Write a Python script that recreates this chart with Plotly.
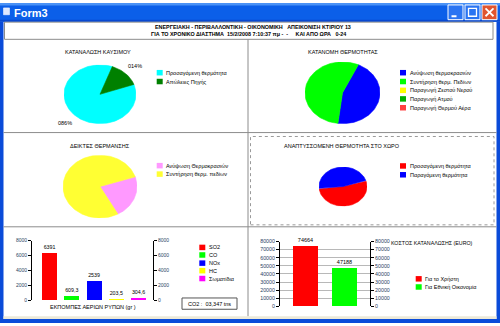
import numpy as np
import plotly.graph_objects as go

FONT = "Liberation Sans"
W, H = 500, 326

# ---------------- data ----------------
fuel_labels = ["Προσαγόμενη θερμότητα", "Απώλειες Πηγής"]
fuel_values = [86, 14]
heat_labels = ["Ανύψωση θερμοκρασιών", "Συντήρηση θερμ. Πεδίων", "Παραγωγή Ζεστού Νερού",
               "Παραγωγή Ατμού", "Παραγωγή Θερμού Αέρα"]
heat_values = [45, 55, 0, 0, 0]
index_labels = ["Ανύψωση Θερμοκρασιών", "Συντήρηση θερμ. πεδίων"]
index_values = [22, 78]
room_labels = ["Προσαγόμενη θερμότητα", "Παραγόμενη θερμότητα"]
room_values = [53, 47]
emis_labels = ["SO2", "CO", "NOx", "HC", "Σωματίδια"]
emis_values = [6391, 609.3, 2539, 203.5, 304.6]
cost_labels = ["Για το Χρήστη", "Για Εθνική Οικονομία"]
cost_values = [74664, 47188]
emis_ticks = [0, 2000, 4000, 6000, 8000]
cost_ticks = [0, 10000, 20000, 30000, 40000, 50000, 60000, 70000, 80000]
co2_text = "CO2 :\u00a0\u00a003,347 tns"

# ---------------- styles ----------------
fuel_colors = ["#00FFFF", "#008000"]
heat_colors = ["#0000FF", "#00FF00", "#FFFF00", "#00B000", "#FF4040"]
index_colors = ["#FF99FF", "#FFFF33"]
room_colors = ["#FF0000", "#0000FF"]
emis_colors = ["#FF0000", "#00FF00", "#0000FF", "#FFFF00", "#FF00FF"]
cost_colors = ["#FF0000", "#00FF00"]


def px(x):
    return x / W


def py(y):
    return 1 - y / H


shapes, annotations = [], []


def rect(x0, y0, x1, y1, fill=None, line=None, lw=1, dash=None, layer="below"):
    shapes.append(dict(type="rect", xref="paper", yref="paper",
                       x0=px(x0), x1=px(x1), y0=py(y1), y1=py(y0),
                       fillcolor=fill if fill else "rgba(0,0,0,0)",
                       line=dict(color=line if line else "rgba(0,0,0,0)",
                                 width=lw if line else 0, dash=dash),
                       layer=layer))


def hline(x0, x1, y, color="#8c8c8c", lw=1, layer="below"):
    shapes.append(dict(type="line", xref="paper", yref="paper", x0=px(x0), x1=px(x1),
                       y0=py(y), y1=py(y), line=dict(color=color, width=lw), layer=layer))


def vline(x, y0, y1, color="#8c8c8c", lw=1, layer="below"):
    shapes.append(dict(type="line", xref="paper", yref="paper", x0=px(x), x1=px(x),
                       y0=py(y0), y1=py(y1), line=dict(color=color, width=lw), layer=layer))


def text(x, y, s, size=5.5, color="black", xanchor="center", family=FONT):
    annotations.append(dict(xref="paper", yref="paper", x=px(x), y=py(y), text=s,
                            showarrow=False, xanchor=xanchor, yanchor="middle",
                            borderpad=0, font=dict(family=family, size=size, color=color)))


def legend(x_box, ys, labels, colors, size=5.5):
    for yy, lab, col in zip(ys, labels, colors):
        rect(x_box, yy - 2.8, x_box + 6, yy + 2.8, fill=col, layer="above")
        text(x_box + 8.5, yy, lab, size=size, xanchor="left")


fig = go.Figure()
layout_axes = {}

# ---------------- window chrome ----------------
rect(0, 0, 500, 19, fill="#0B5FE9")
rect(0, 0, 500, 2.5, fill="#4A92F6")
rect(0, 17, 500, 19, fill="#0848D0")
rect(0, 19, 3.5, 326, fill="#0A4BD9")
rect(496.5, 19, 500, 326, fill="#0A4BD9")
rect(0, 322, 500, 326, fill="#0A4BD9")
rect(3.5, 319, 496.5, 322, fill="#ECE9D8")
# icon
rect(3.5, 5, 9.5, 12, fill="#DDE8FF", line="#FFFFFF", lw=0.5)
text(13, 10, "<b>Form3</b>", size=11, color="white", xanchor="left")
# buttons
rect(448, 2, 463, 17, fill="#2A74F2", line="#FFFFFF", lw=1)
hline(451.5, 456.5, 13.5, color="white", lw=2, layer="above")
rect(465, 2, 480, 17, fill="#2A74F2", line="#FFFFFF", lw=1)
rect(468.5, 5.5, 476.5, 13.5, line="#FFFFFF", lw=1.3, layer="above")
rect(482, 2, 497, 17, fill="#E0552F", line="#FFFFFF", lw=1)
shapes.append(dict(type="line", xref="paper", yref="paper", x0=px(485.5), x1=px(493.5),
                   y0=py(5.5), y1=py(13.5), line=dict(color="white", width=1.8), layer="above"))
shapes.append(dict(type="line", xref="paper", yref="paper", x0=px(485.5), x1=px(493.5),
                   y0=py(13.5), y1=py(5.5), line=dict(color="white", width=1.8), layer="above"))

# header box
rect(4.5, 19.5, 493, 37, line="#8c8c8c", lw=1)
text(253, 24, "<b>ΕΝΕΡΓΕΙΑΚΗ - ΠΕΡΙΒΑΛΛΟΝΤΙΚΗ - ΟΙΚΟΝΟΜΙΚΗ\u00a0\u00a0\u00a0ΑΠΕΙΚΟΝΙΣΗ ΚΤΙΡΙΟΥ 13</b>",
     size=5.4)
text(248, 32, "<b>ΓΙΑ ΤΟ ΧΡΟΝΙΚΟ ΔΙΑΣΤΗΜΑ\u00a0\u00a015/2/2008 7:10:37 πμ -\u00a0\u00a0-\u00a0\u00a0\u00a0\u00a0\u00a0ΚΑΙ ΑΠΟ ΩΡΑ\u00a0\u00a0\u00a00-24</b>",
     size=5.4)

# panel dividers
vline(248, 37, 319)
hline(3.5, 496.5, 132)
hline(3.5, 496.5, 228)
rect(250.5, 136, 494, 226, line="#9a9a9a", lw=1, dash="dot")

# ---------------- pies (elliptical, drawn on scaled axes) ----------------
pies = [
    dict(cx=100, cy=93, a=36, b=30, vals=fuel_values, cols=fuel_colors, start=70.4,
         title="ΚΑΤΑΝΑΛΩΣΗ ΚΑΥΣΙΜΟΥ", tx=98, ty=50,
         labels=fuel_labels, lx=156.7, lys=[71, 80], k=1.38),
    dict(cx=342.5, cy=91.5, a=37.5, b=31.5, vals=heat_values, cols=heat_colors, start=25,
         title="ΚΑΤΑΝΟΜΗ ΘΕΡΜΟΤΗΤΑΣ", tx=343, ty=50,
         labels=heat_labels, lx=400, lys=[71, 80, 89, 97.7, 106.7], k=1.35),
    dict(cx=100, cy=187, a=37, b=32, vals=index_values, cols=index_colors, start=72,
         title="ΔΕΙΚΤΕΣ ΘΕΡΜΑΝΣΗΣ", tx=100, ty=146,
         labels=index_labels, lx=156.7, lys=[165.7, 174.3], k=1.38),
    dict(cx=343, cy=187, a=24, b=20, vals=room_values, cols=room_colors, start=72,
         title="ΑΝΑΠΤΥΣΣΟΜΕΝΗ ΘΕΡΜΟΤΗΤΑ ΣΤΟ ΧΩΡΟ", tx=342, ty=146,
         labels=room_labels, lx=400, lys=[166, 175], k=1.5),
]

for i, p in enumerate(pies):
    n = i + 1
    xa = "x" if n == 1 else f"x{n}"
    ya = "y" if n == 1 else f"y{n}"
    layout_axes["xaxis" if n == 1 else f"xaxis{n}"] = dict(
        domain=[px(p["cx"] - p["a"]), px(p["cx"] + p["a"])], range=[-1, 1],
        visible=False, fixedrange=True, anchor=ya)
    layout_axes["yaxis" if n == 1 else f"yaxis{n}"] = dict(
        domain=[py(p["cy"] + p["b"]), py(p["cy"] - p["b"])], range=[-1, 1],
        visible=False, fixedrange=True, anchor=xa)
    total = float(sum(p["vals"]))
    t = p["start"]
    for v, c in zip(p["vals"], p["cols"]):
        span = v / total * 360.0
        if span <= 0:
            continue
        ang = np.radians(np.linspace(t, t + span, int(span / 2) + 3))
        xs = np.concatenate([[0], np.sin(ang), [0]])
        ys = np.concatenate([[0], np.cos(ang), [0]])
        fig.add_trace(go.Scatter(x=xs, y=ys, xaxis=xa, yaxis=ya, mode="lines",
                                 fill="toself", fillcolor=c,
                                 line=dict(color=c, width=0.6),
                                 hoverinfo="skip", showlegend=False))
        mid = np.radians(t + span / 2)
        annotations.append(dict(xref=xa, yref=ya, x=p["k"] * np.sin(mid), y=p["k"] * np.cos(mid),
                                text=f"{int(round(v)):03d}%", showarrow=False,
                                font=dict(family=FONT, size=5.5, color="black")))
        t += span
    text(p["tx"], p["ty"], p["title"], size=5.5)
    legend(p["lx"], p["lys"], p["labels"], p["cols"])

# ---------------- emissions bar chart ----------------
def fmt(v):
    s = f"{v:g}"
    return s.replace(".", ",")


fig.add_trace(go.Bar(x=emis_labels, y=emis_values, xaxis="x5", yaxis="y5",
                     marker=dict(color=emis_colors, line=dict(width=0)), width=0.67,
                     text=[fmt(v) for v in emis_values], textposition="outside",
                     constraintext="none", cliponaxis=False,
                     textfont=dict(family=FONT, size=5.3, color="black"),
                     hoverinfo="skip", showlegend=False))
fig.add_trace(go.Scatter(x=[emis_labels[0]], y=[0], xaxis="x5", yaxis="y6", mode="markers",
                         marker=dict(opacity=0), hoverinfo="skip", showlegend=False))
yax_common = dict(range=[0, 8000], tickvals=emis_ticks, ticktext=[str(v) for v in emis_ticks],
                  showline=True, linecolor="black", linewidth=1, ticks="outside", ticklen=3,
                  tickcolor="black", tickfont=dict(family=FONT, size=5), showgrid=False,
                  zeroline=False, fixedrange=True)
layout_axes["xaxis5"] = dict(domain=[px(32), px(153)], range=[-0.79, 4.65], type="category",
                             showticklabels=False, showline=False, ticks="", showgrid=False,
                             zeroline=False, anchor="y5", fixedrange=True)
layout_axes["yaxis5"] = dict(domain=[py(303), py(242)], anchor="x5", side="left", **yax_common)
layout_axes["yaxis6"] = dict(domain=[py(303), py(242)], anchor="x5", side="right",
                             overlaying="y5", **yax_common)
text(93, 309.5, "ΕΚΠΟΜΠΕΣ ΑΕΡΙΩΝ ΡΥΠΩΝ (gr )", size=5.5)
legend(199.3, [249, 256.7, 265, 272.7, 280.7], emis_labels, emis_colors)
rect(182, 300.5, 237, 312, line="#555555", lw=1)
text(209.5, 306.3, co2_text, size=5.5)

# ---------------- cost bar chart ----------------
fig.add_trace(go.Bar(x=cost_labels, y=cost_values, xaxis="x7", yaxis="y7",
                     marker=dict(color=cost_colors, line=dict(width=0)), width=0.64,
                     text=[fmt(v) for v in cost_values], textposition="outside",
                     constraintext="none", cliponaxis=False,
                     textfont=dict(family=FONT, size=5.5, color="black"),
                     hoverinfo="skip", showlegend=False))
fig.add_trace(go.Scatter(x=[cost_labels[0]], y=[0], xaxis="x7", yaxis="y8", mode="markers",
                         marker=dict(opacity=0), hoverinfo="skip", showlegend=False))
yax2_common = dict(range=[0, 80000], tickvals=cost_ticks, ticktext=[str(v) for v in cost_ticks],
                   showline=True, linecolor="black", linewidth=1, ticks="outside", ticklen=3,
                   tickcolor="black", tickfont=dict(family=FONT, size=5.3),
                   zeroline=False, fixedrange=True)
layout_axes["xaxis7"] = dict(domain=[px(280), px(370)], range=[-0.654, 1.654], type="category",
                             showticklabels=False, showline=False, ticks="", showgrid=False,
                             zeroline=False, anchor="y7", fixedrange=True)
layout_axes["yaxis7"] = dict(domain=[py(309), py(243)], anchor="x7", side="left",
                             showgrid=True, gridcolor="#B8B8B8", gridwidth=1, **yax2_common)
layout_axes["yaxis8"] = dict(domain=[py(309), py(243)], anchor="x7", side="right",
                             overlaying="y7", showgrid=False, **yax2_common)
text(390, 244, "ΚΟΣΤΟΣ ΚΑΤΑΝΑΛΩΣΗΣ (EURO)", size=5.3, xanchor="left")
legend(415.7, [281, 289.3], cost_labels, cost_colors)

fig.update_layout(width=W, height=H, margin=dict(l=0, r=0, t=0, b=0, pad=0),
                  paper_bgcolor="white", plot_bgcolor="rgba(0,0,0,0)",
                  shapes=shapes, annotations=annotations, showlegend=False,
                  bargap=0, font=dict(family=FONT), **layout_axes)

fig.write_html("out.html", config=dict(displayModeBar=False, staticPlot=True))
